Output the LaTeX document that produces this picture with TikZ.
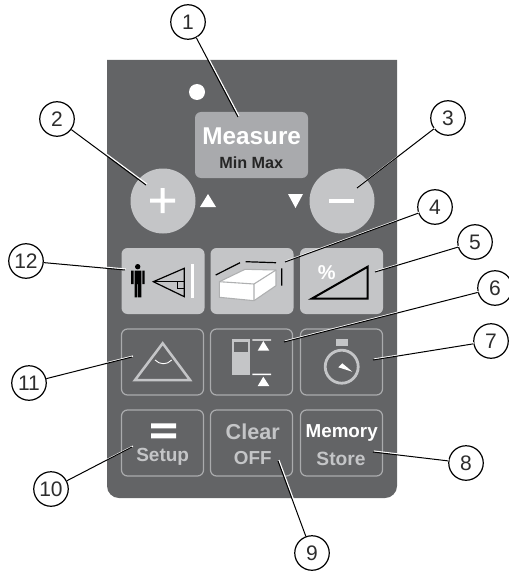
\documentclass[tikz,border=0pt]{standalone}
\usepackage{fontspec}
\setmainfont{Liberation Sans}
\usetikzlibrary{positioning}
\definecolor{panelgray}{RGB}{99, 100, 102}
\definecolor{keygray}{RGB}{196, 197, 199}
\definecolor{measuregray}{RGB}{169, 170, 173}
\definecolor{rimgray}{RGB}{170, 171, 173}
\definecolor{numink}{RGB}{45, 45, 45}
\newcommand{\pxfont}[1]{\fontsize{#1}{#1}\selectfont}
\tikzset{
  callout/.style={draw=black, fill=white, circle, line width=1.2pt, minimum size=34.5pt, inner sep=0pt, text=numink, font=\pxfont{21}},
  leader/.style={draw=black, line width=1pt, preaction={draw=white, line width=1.3pt, transform canvas={shift={(.9pt,.9pt)}}}},
  softkey/.style={fill=keygray, rounded corners=6pt, minimum width=83pt, minimum height=66pt, inner sep=0pt},
  rimkey/.style={draw=rimgray, line width=1.2pt, rounded corners=6pt, minimum width=82pt, minimum height=66pt, inner sep=0pt},
  roundkey/.style={fill=keygray, circle, minimum size=65pt, inner sep=0pt},
  keytext/.style={font=\bfseries\pxfont{#1}, inner sep=0pt},
  glyphline/.style={draw=keygray, line width=2.5pt, line join=miter},
}
\begin{document}
\begin{tikzpicture}[x=1pt, y=-1pt]
  \useasboundingbox (0,0) rectangle (508,572);

  % Housing
  \fill[panelgray] (107,60) -- (397,60) [rounded corners=12pt] -- (397,498) -- (107,498) [sharp corners] -- cycle;
  \fill[white] (197,92) circle (8);

  % Measure and the two round keys
  \node[fill=measuregray, rounded corners=6pt, minimum width=113pt, minimum height=66pt] (measure) at (251.5,145) {};
  \node[keytext=24.3, text=white] (measuretxt) at (251.7,136) {Measure};
  \node[keytext=16.2, text=black!85] (minmax) at (251.3,162.3) {Min Max};
  \node[roundkey] (plus) at (163,201) {};
  \node[roundkey] (minus) at (342,201) {};
  \fill[white] (150,198.7) rectangle (175,202.7) (160.5,188) rectangle (164.5,213);
  \fill[white] (329,198.7) rectangle (354,203.3);
  \fill[white] (200,207) -- (216,207) -- (208,194) -- cycle;
  \fill[white] (288,194) -- (303,194) -- (295.5,208) -- cycle;

  % Second row
  \node[softkey] (person) at (163,281) {};
  \node[softkey] (area) at (252,281) {};
  \node[softkey] (slope) at (341.5,281) {};

  \fill[black] (137.7,266.7) circle (2.7);
  \fill[black] (134.5,270.7) rectangle (141.3,284) (134.5,284) rectangle (137.3,297.3) (138.2,284) rectangle (141.3,297.3);
  \fill[black] (131,270.7) rectangle (133.5,284) (142.3,270.7) rectangle (144.5,284);
  \draw[black, line width=1.2pt] (184.3,268.3) -- (153.3,281.7) -- (184.3,296.7) -- cycle;
  \draw[black, line width=1.2pt] (153.3,281.7) -- (184.3,281.7) (177.3,281.7) |- (184.3,288.3);
  \fill[white] (190.7,264.3) rectangle (194,297.7);

  \draw[keygray!70!gray, fill=white, line width=1.1pt, line join=round] (219.3,281.7) -- (245,269.3) -- (276,270) -- (276,285.7) -- (254,300.7) -- (219.3,297.3) -- cycle;
  \draw[keygray!70!gray, line width=1.1pt] (219.3,281.7) -- (254,284) -- (276,270) (254,284) -- (254,300.7);
  \draw[black, line width=1.2pt] (215.7,275) -- (240,262.7) (245.7,261.7) -- (276,262.7) (281.7,268.3) -- (281.7,285.7);

  \draw[black, line width=2pt, line join=miter] (311.7,298.7) -- (367.7,266.7) -- (367.7,298.7) -- cycle;
  \node[keytext=20, text=white] (percent) at (326.7,272.7) {\%};

  % Third row
  \node[rimkey] (angle) at (162.5,362) {};
  \node[rimkey] (refer) at (251.5,362) {};
  \node[rimkey] (timer) at (341.5,362) {};

  \draw[glyphline] (162.7,343.3) -- (135,380) -- (190,380) -- cycle;
  \draw[white, line width=.9pt] (155,360) .. controls (160,365) and (167,365) .. (171.7,360);

  \fill[keygray] (232,339.3) rectangle (250,375);
  \fill[panelgray] (234.3,341.7) rectangle (247.7,351.7);
  \fill[white] (252.3,339.3) rectangle (271,340.7) (252.3,373.7) rectangle (271,375);
  \fill[white] (263.3,341) -- (257.7,350.7) -- (269.3,350.7) -- cycle;
  \fill[white] (263.3,376.7) -- (257.7,386) -- (269.3,386) -- cycle;

  \fill[keygray] (336,339) rectangle (348.3,345.7);
  \draw[keygray, line width=2.8pt] (341.7,366.7) circle (16.5);
  \fill[white] (338.3,367.3) -- (352.3,371.7) -- (342.3,363.3) -- cycle;

  % Bottom row
  \node[rimkey] (setup) at (162.5,443) {};
  \node[rimkey] (clear) at (251.5,443) {};
  \node[rimkey] (memory) at (341.5,443) {};

  \fill[white] (151,423.3) rectangle (176,428.3) (151,433.3) rectangle (176,438.3);
  \node[keytext=19, text=keygray] (setuptxt) at (162.7,457.3) {Setup};
  \node[keytext=21.6, text=keygray] (cleartxt) at (252.7,431.7) {Clear};
  \node[keytext=18.8, text=keygray] (offtxt) at (252.7,458.3) {OFF};
  \node[keytext=18.8, text=white] (memorytxt) at (341.7,432.7) {Memory};
  \node[keytext=19.2, text=keygray] (storetxt) at (341,459) {Store};

  % Numbered callouts
  \node[callout] (num1) at (188,22) {1};
  \node[callout] (num2) at (57,119) {2};
  \node[callout] (num3) at (448,118) {3};
  \node[callout] (num4) at (435,207) {4};
  \node[callout] (num5) at (475,242) {5};
  \node[callout] (num6) at (495,288) {6};
  \node[callout] (num7) at (491,341) {7};
  \node[callout] (num8) at (466,463) {8};
  \node[callout] (num9) at (312,553) {9};
  \node[callout] (num10) at (51,489) {10};
  \node[callout] (num11) at (29,383) {11};
  \node[callout] (num12) at (26,261) {12};

  % Leaders
  \coordinate (tip1) at (238,117);
  \coordinate (tip2) at (146,185);
  \coordinate (tip3) at (357,188);
  \coordinate (tip4) at (285,262);
  \coordinate (tip5) at (375,272);
  \coordinate (tip6) at (284,342);
  \coordinate (tip7) at (373,360);
  \coordinate (tip8) at (373,452);
  \coordinate (tip9) at (278,461);
  \coordinate (tip10) at (132,447);
  \coordinate (tip11) at (132,357);
  \coordinate (tip12) at (125,270);
  \draw[leader] (num1) -- (tip1);
  \draw[leader] (num2) -- (tip2);
  \draw[leader] (num3) -- (tip3);
  \draw[leader] (num4) -- (tip4);
  \draw[leader] (num5) -- (tip5);
  \draw[leader] (num6) -- (tip6);
  \draw[leader] (num7) -- (tip7);
  \draw[leader] (num8) -- (tip8);
  \draw[leader] (num9) -- (tip9);
  \draw[leader] (num10) -- (tip10);
  \draw[leader] (num11) -- (tip11);
  \draw[leader] (num12) -- (tip12);
\end{tikzpicture}
\end{document}
